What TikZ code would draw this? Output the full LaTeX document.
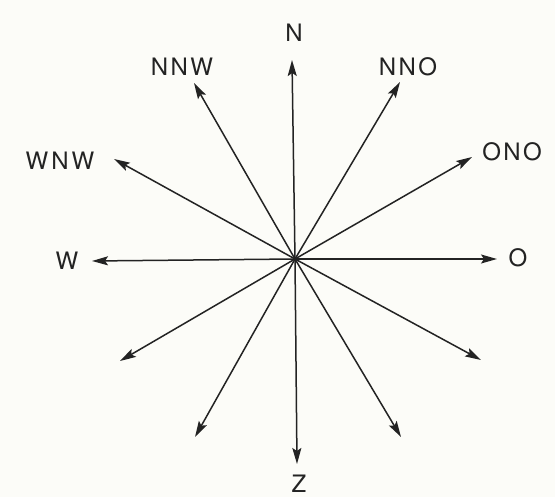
\documentclass[tikz,border=0pt]{standalone}
\usepackage{fontspec}
\setmainfont{TeX Gyre Heros}[LetterSpace=10]
\usetikzlibrary{arrows.meta}
\definecolor{ink}{RGB}{35,35,35}
\definecolor{paper}{RGB}{252,252,248}
\begin{document}
\begin{tikzpicture}[x=1pt,y=-1pt,
  arr/.style={draw=ink,line width=1.5pt,-{Stealth[length=16pt,width=9pt,inset=3pt]}},
  lab/.style={text=ink,font=\fontsize{24}{24}\selectfont,inner sep=0pt}]
\fill[paper] (0,0) rectangle (555,497);
\useasboundingbox (0,0) rectangle (555,497);
\coordinate (c) at (295,259);
\coordinate (tN) at (292,60);
\coordinate (tNNW) at (194,83);
\coordinate (tNNO) at (400,82);
\coordinate (tWNW) at (114,159);
\coordinate (tONO) at (472,157);
\coordinate (tW) at (92,261);
\coordinate (tO) at (497,259);
\coordinate (tSW1) at (120,361);
\coordinate (tSW2) at (195,437);
\coordinate (tZ) at (297,464);
\coordinate (tSE2) at (401,437);
\coordinate (tSE1) at (481,360);
\foreach \t in {tN,tNNW,tNNO,tWNW,tONO,tW,tO,tSW1,tSW2,tZ,tSE2,tSE1}
  \draw[arr] (c) -- (\t);
\node[lab] (N) at (294,33) {N};
\node[lab] (NNW) at (182,67) {NNW};
\node[lab] (NNO) at (408,67) {NNO};
\node[lab] (WNW) at (60,161) {W\hspace{3pt}N\hspace{3pt}W};
\node[lab] (ONO) at (512,152) {ONO};
\node[lab] (W) at (67,261) {W};
\node[lab] (O) at (518,258) {O};
\node[lab] (Z) at (299,484) {Z};
\end{tikzpicture}
\end{document}
